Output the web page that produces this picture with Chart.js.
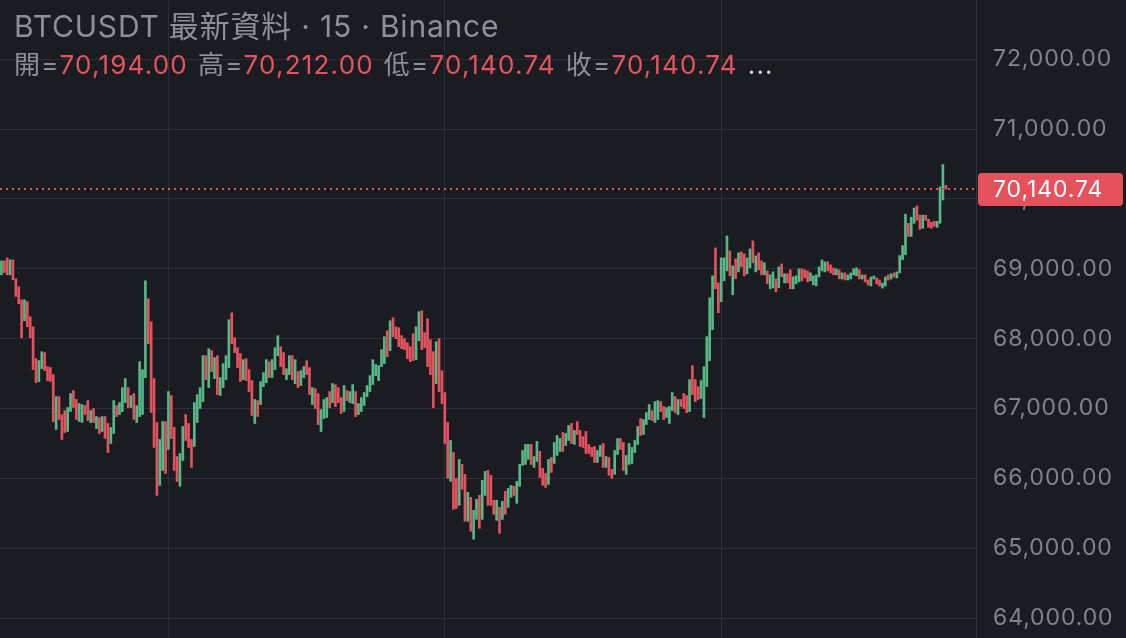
<!DOCTYPE html>
<html>
<head>
  <meta charset="UTF-8">
  <title>BTCUSDT 15</title>
  <style>
    body { margin: 0; background: #1b1c21; }
    #wrap { position: relative; width: 1126px; height: 638px; overflow: hidden; }
    #chart { position: absolute; left: 0; top: 0; }
    .legend { position: absolute; left: 14px; white-space: nowrap; font-family: "Inter", "Noto Sans CJK TC", sans-serif; }
    #title { top: 8px; font-size: 30px; line-height: 36px; letter-spacing: 0.8px; color: #8d9098; }
    #ohlc { top: 49px; font-size: 26px; line-height: 32px; letter-spacing: 1.2px; color: #8d9098; }
    #ohlc .v { color: #e5545f; margin-right: 10px; }
    #ohlc .more { color: #d4d6dc; }
  </style>
</head>
<body>
<div id="wrap">
  <canvas id="chart" width="1126" height="638"></canvas>
  <div id="title" class="legend">BTCUSDT 最新資料 · 15 · Binance</div>
  <div id="ohlc" class="legend"></div>
</div>

<script src="https://cdn.jsdelivr.net/npm/chart.js"></script>
<script>
  // 15 min candles (open / close of each bar, left to right)
  const opens = [
    68914,69114,69157,68914,69129,68857,68743,68557,68257,68529,68314,68171,67714,67386,67571,67800,67600,67586,67486,66700,
    67171,66914,66971,66671,66957,67257,67129,66814,66800,67043,67114,66800,67000,66714,66871,66671,66886,66786,66500,66643,
    67043,66914,66957,67086,67300,67014,67214,66800,66886,66914,67443,68571,68243,67429,66800,65900,66114,66814,66414,67186,
    66729,66314,65886,66257,66914,66786,66557,66457,66800,67000,67100,67757,67300,67829,67429,67757,67186,67300,67414,67586,
    68371,68014,67871,67786,67414,67714,67557,67400,66786,67114,67057,67314,67371,67671,67443,67557,67757,67886,67800,67414,
    67486,67757,67357,67529,67329,67443,67686,67586,67057,67286,67214,66671,66857,66871,67243,67086,67343,67300,67157,66957,
    67257,67086,67071,67243,66914,66957,67043,67171,67243,67343,67471,67400,67600,67643,68114,67829,68300,68171,68157,68043,
    68000,67943,67886,68071,67700,67971,68400,68086,68286,67986,67814,67357,68000,67543,67229,66800,65957,66371,66000,65614,
    66200,66057,65386,65729,65129,65414,65757,65414,65757,66114,66043,65686,65400,65586,65414,65814,65586,65729,65886,65643,
    65886,66186,66200,66271,66486,66157,66243,66386,66143,66071,65914,66300,66214,66329,66386,66657,66471,66543,66786,66486,
    66814,66686,66600,66671,66486,66443,66457,66229,66314,66500,66157,66300,66129,66057,66343,66571,66514,66057,66200,66214,
    66371,66486,66857,66629,66771,66843,66971,66800,66843,67100,67029,66871,66786,66971,67171,66914,67129,67214,67186,66957,
    67614,67414,67314,67143,66871,67314,67686,68129,69300,68800,68529,68829,68971,69257,68629,69143,68957,69243,69214,68929,
    69014,69400,68957,69229,69114,68914,68971,68714,68729,68857,68729,69071,68800,68929,68986,68714,68786,68814,69000,68986,
    68971,68829,68771,68757,68886,68971,68957,69100,69057,69014,68914,68986,68855,68942,68841,68855,68913,68899,68986,68855,
    68913,68841,68754,68855,68870,68841,68725,68754,68913,68855,68942,68870,68942,69131,69203,69652,69464,69652,69899,69768,
    69580,69768,69710,69667,69681,69594,69652,69986,70194
  ];
  const closes = [
    69114,68948,68914,69129,68843,68605,68500,68014,68557,68171,68014,67557,67371,67686,67814,67543,67400,67386,66814,67171,
    66843,66557,66657,67014,67214,67014,66843,67071,67057,66914,66829,66971,66800,66886,66643,66886,66571,66371,66729,67114,
    66886,67086,67300,67429,67014,67186,66843,67043,67671,67557,68829,67929,66943,66443,65757,66557,66814,66071,67243,66571,
    66114,65957,66357,66743,66543,66443,66157,67086,67200,67300,67757,67414,67857,67529,67729,67200,67443,67643,67757,68271,
    67929,67800,67586,67386,67700,67400,67243,66900,67129,66886,67386,67514,67700,67443,67700,67871,68043,67600,67486,67571,
    67757,67414,67700,67300,67543,67600,67486,67200,67300,67000,66771,66986,67129,67157,67014,67357,67029,67086,66929,67329,
    67114,67243,67343,66886,67071,67157,67229,67329,67471,67700,67629,67614,67843,68029,67743,68257,68029,68000,67886,67857,
    67843,67714,67671,67686,68171,68386,67843,67871,67600,67486,67014,67957,67243,67071,66500,66000,66543,65557,65571,66271,
    65843,65386,65800,65243,65543,65700,65286,65971,66100,65614,65614,65486,65686,65214,65671,65486,65857,65900,65757,65957,
    66200,66400,66486,66486,66200,66314,66529,66014,65900,65871,66271,66086,66514,66614,66571,66386,66643,66757,66500,66686,
    66629,66457,66443,66357,66357,66314,66229,66400,66471,66157,66314,66043,66000,66400,66571,66414,66114,66329,66500,66443,
    66543,66743,66614,66843,66943,67057,66829,67100,67114,66957,66843,67014,67029,67229,66943,67129,67029,67000,66943,67414,
    67200,67100,67129,67400,67600,68029,68586,68900,68714,68371,69157,69157,69471,68900,69043,68857,69229,69029,68900,69157,
    69286,69086,69186,68986,68914,69086,68786,68914,68957,68671,69029,68886,68929,68800,68714,68886,68900,69000,68829,68871,
    68814,68943,68900,68914,69029,69129,69100,68971,68943,68914,69000,68857,68942,68841,68913,68942,69000,69015,68855,68913,
    68812,68768,68884,68899,68783,68754,68797,68884,68841,68928,68884,68957,69189,69333,69783,69464,69739,69870,69696,69565,
    69768,69696,69594,69580,69609,69681,70174,70493,70140.74
  ];
  // last candle shown in the header
  const lastOpen = 70194.00, lastHigh = 70212.00, lastLow = 70140.74, lastClose = 70140.74;
  const yTicks = [64000, 65000, 66000, 67000, 68000, 69000, 70000, 71000, 72000];
  const dayLines = [58, 154, 250];   // candle index of the vertical grid lines
  const rightOffset = 10;            // empty candle slots after the last bar

  const UP = '#56b886', DOWN = '#e5525e';
  const BG = '#1b1c21', GRID = '#2c2f37';

  const fmt = v => v.toLocaleString('en-US', { minimumFractionDigits: 2, maximumFractionDigits: 2 });

  document.getElementById('ohlc').innerHTML =
    '開=<span class="v">' + fmt(lastOpen) + '</span>' +
    '高=<span class="v">' + fmt(lastHigh) + '</span>' +
    '低=<span class="v">' + fmt(lastLow) + '</span>' +
    '收=<span class="v">' + fmt(lastClose) + '</span><span class="more">...</span>';

  const slots = Array.from({ length: opens.length + rightOffset }, (_, i) => i);

  const bgPlugin = {
    id: 'bg',
    beforeDraw(c) {
      const g = c.ctx;
      g.save();
      g.fillStyle = BG;
      g.fillRect(0, 0, c.width, c.height);
      g.restore();
      g.letterSpacing = '0.9px';
    }
  };

  // dotted last-price line and the red price tag on the axis
  const lastPricePlugin = {
    id: 'lastPrice',
    afterDraw(c) {
      const g = c.ctx, a = c.chartArea;
      const y = Math.round(c.scales.y.getPixelForValue(lastClose));
      g.save();
      g.strokeStyle = DOWN;
      g.lineWidth = 2;
      g.setLineDash([2, 4]);
      g.beginPath();
      g.moveTo(a.left, y);
      g.lineTo(a.right, y);
      g.stroke();
      g.setLineDash([]);
      g.fillStyle = DOWN;
      g.beginPath();
      g.roundRect(a.right + 2, y - 16, 145, 33, 4);
      g.fill();
      g.fillStyle = '#ffffff';
      g.font = '23px Inter';
      g.letterSpacing = '0.9px';
      g.textBaseline = 'middle';
      g.fillText(fmt(lastClose), a.right + 17, y + 1);
      g.restore();
    }
  };

  new Chart(document.getElementById('chart'), {
    type: 'bar',
    data: {
      labels: slots,
      datasets: [{
        data: opens.map((o, i) => [o, closes[i]]),
        backgroundColor: opens.map((o, i) => closes[i] >= o ? UP : DOWN),
        barThickness: 2,
        borderWidth: 0,
        grouped: false
      }]
    },
    options: {
      responsive: false,
      animation: false,
      layout: { padding: 0 },
      plugins: { legend: { display: false }, tooltip: { enabled: false } },
      scales: {
        x: {
          type: 'category',
          offset: true,
          afterBuildTicks: s => { s.ticks = dayLines.map(v => ({ value: v })); },
          afterFit: s => { s.height = 0; s.paddingLeft = 0; s.paddingRight = 0; },
          ticks: { display: false },
          grid: { color: GRID, drawTicks: false, offset: false },
          border: { display: false }
        },
        y: {
          position: 'right',
          min: 63715,
          max: 72849,
          afterBuildTicks: s => { s.ticks = yTicks.map(v => ({ value: v })); },
          afterFit: s => { s.width = 150; s.paddingTop = 0; s.paddingBottom = 0; },
          ticks: {
            color: '#80848d',
            font: { family: 'Inter', size: 23 },
            padding: 17,
            callback: v => fmt(v)
          },
          grid: { color: GRID, drawTicks: false },
          border: { display: true, color: '#30333b' }
        }
      }
    },
    plugins: [bgPlugin, lastPricePlugin]
  });
</script>
</body>
</html>
